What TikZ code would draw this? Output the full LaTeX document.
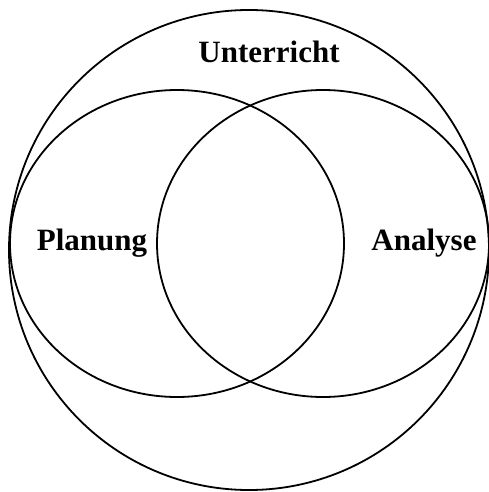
\documentclass[tikz,border=0pt]{standalone}
\usepackage{fontspec}
\setmainfont{Liberation Serif}
\begin{document}
\begin{tikzpicture}[x=1pt,y=-1pt,
  ring/.style={draw=black,line width=1.8pt},
  lbl/.style={font=\fontsize{31}{34}\selectfont\bfseries,anchor=base,inner sep=0pt}]
\useasboundingbox (0,0) rectangle (489,492);
\draw[ring] (249,250) circle [radius=240];
\draw[ring] (177,243.5) ellipse [x radius=167, y radius=153.5];
\draw[ring] (323,243.5) ellipse [x radius=166, y radius=153.5];
\node[lbl] (u) at (269,63) {Unterricht};
\node[lbl] (p) at (92,250) {Planung};
\node[lbl] (a) at (424,250) {Analyse};
\end{tikzpicture}
\end{document}
